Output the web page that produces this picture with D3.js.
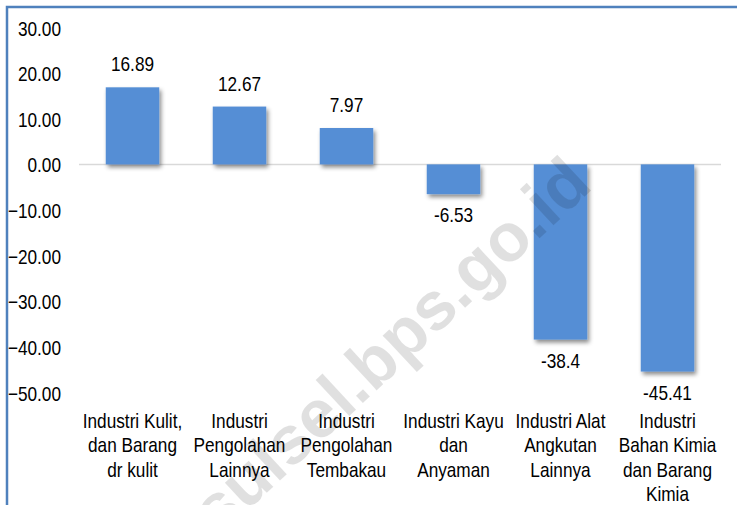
<!DOCTYPE html>
<html>
<head>
<meta charset="utf-8">
<style>
html, body { margin: 0; padding: 0; background: #fff; }
svg { display: block; }
text {
    font-family: 'Liberation Sans', Arial, sans-serif;
    fill: #000;
}
</style>
</head>
<body>

<svg></svg>

<script src="https://cdn.jsdelivr.net/npm/d3@7/dist/d3.min.js"></script>
<script>

const categories = [
    'Industri Kulit,\ndan Barang\ndr kulit',
    'Industri\nPengolahan\nLainnya',
    'Industri\nPengolahan\nTembakau',
    'Industri Kayu\ndan\nAnyaman',
    'Industri Alat\nAngkutan\nLainnya',
    'Industri\nBahan Kimia\ndan Barang\nKimia',
];
const values = [16.89, 12.67, 7.97, -6.53, -38.4, -45.41];
const valueLabels = ['16.89', '12.67', '7.97', '-6.53', '-38.4', '-45.41'];
const yTicks = [30, 20, 10, 0, -10, -20, -30, -40, -50];

const fullWidth = 737;
const fullHeight = 505;
const barColor = '#558ed5';
const fontSize = 21;
// no narrow font installed, so squeeze the regular one
const squeeze = 'scale(0.82,1)';

const svg = d3.select('svg')
    .attr('width', fullWidth)
    .attr('height', fullHeight);

// soft shadow under the bars
const defs = svg.append('defs');
defs.append('filter')
    .attr('id', 'shadow')
    .attr('x', '-20%').attr('y', '-20%')
    .attr('width', '150%').attr('height', '150%')
  .append('feDropShadow')
    .attr('dx', 2).attr('dy', 3)
    .attr('stdDeviation', 2)
    .attr('flood-color', '#000')
    .attr('flood-opacity', 0.45);

// chart frame, only left and top edges are inside the picture
svg.append('rect')
    .attr('x', 7).attr('y', 7)
    .attr('width', 800).attr('height', 600)
    .attr('fill', 'none')
    .attr('stroke', '#4f81bd')
    .attr('stroke-width', 2.5);

const x = d3.scaleBand()
    .domain(d3.range(categories.length))
    .range([79, 721])
    .paddingInner(0.5)
    .paddingOuter(0.25);

const y = d3.scaleLinear()
    .domain([30, -50])
    .range([27.5, 392.5]);

// y axis labels
const yAxis = d3.axisLeft(y)
    .tickValues(yTicks)
    .tickFormat(d3.format('.2f'))
    .tickSize(0)
    .tickPadding(0);

const yAxisG = svg.append('g')
    .attr('transform', 'translate(61,0)')
    .call(yAxis);
yAxisG.select('.domain').remove();
yAxisG.selectAll('text')
    .attr('font-size', fontSize)
    .attr('font-family', null)
    .attr('fill', '#000')
    .attr('x', 0)
    .attr('dy', '0.36em')
    .attr('transform', squeeze);

// zero line
svg.append('line')
    .attr('x1', 79).attr('x2', 721)
    .attr('y1', y(0)).attr('y2', y(0))
    .attr('stroke', '#d9d9d9')
    .attr('stroke-width', 1.5);

// bars
svg.append('g')
    .selectAll('rect')
    .data(values)
    .join('rect')
    .attr('x', (d, i) => x(i))
    .attr('width', x.bandwidth())
    .attr('y', d => y(Math.max(0, d)))
    .attr('height', d => Math.abs(y(d) - y(0)))
    .attr('fill', barColor)
    .attr('filter', 'url(#shadow)');

// value labels
svg.append('g')
    .selectAll('text')
    .data(values)
    .join('text')
    .attr('transform', (d, i) => {
        const cx = x(i) + x.bandwidth() / 2;
        const cy = d >= 0 ? y(d) - 16 : y(d) + 28;
        return `translate(${cx},${cy}) ${squeeze}`;
    })
    .attr('text-anchor', 'middle')
    .attr('font-size', fontSize)
    .text((d, i) => valueLabels[i]);

// category labels
const catG = svg.append('g')
    .selectAll('text')
    .data(categories)
    .join('text')
    .attr('text-anchor', 'middle')
    .attr('font-size', fontSize)
    .attr('transform', (d, i) => `translate(${x(i) + x.bandwidth() / 2},428) ${squeeze}`);

catG.selectAll('tspan')
    .data(d => d.split('\n'))
    .join('tspan')
    .attr('x', 0)
    .attr('dy', (d, j) => j === 0 ? 0 : 24.5)
    .text(d => d);

// watermark on top
svg.append('text')
    .attr('transform', 'translate(390,345) rotate(-43)')
    .attr('text-anchor', 'middle')
    .attr('dominant-baseline', 'central')
    .attr('font-weight', 'bold')
    .attr('font-size', 68)
    .style('fill', '#000')
    .attr('fill-opacity', 0.12)
    .text('sulsel.bps.go.id');

</script>
</body>
</html>
